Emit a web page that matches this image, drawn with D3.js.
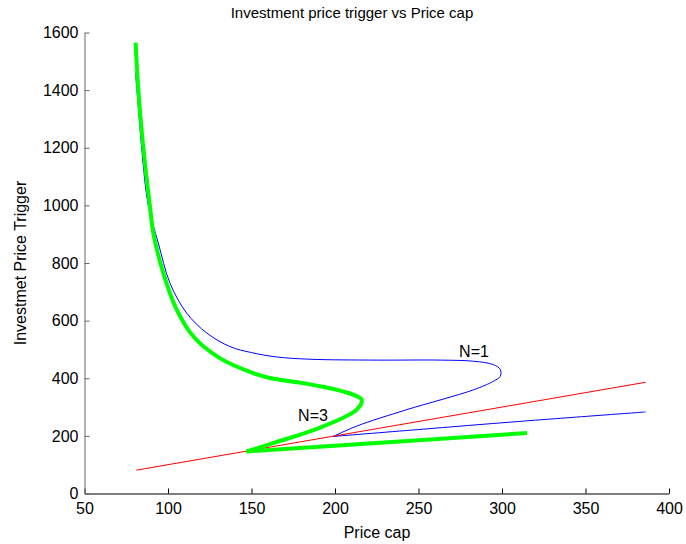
<!DOCTYPE html>
<html>
<head>
<meta charset="utf-8">
<script src="https://cdn.jsdelivr.net/npm/d3@7/dist/d3.min.js"></script>
<style>
  body { margin: 0; background: #fff; }
  text { font-family: "Liberation Sans", Arial, sans-serif; }
</style>
</head>
<body>
<svg id="svg" width="686" height="544"></svg>
<script>
// price cap (x) / investment price trigger (y)
const n1Cap     = [80.6, 82.8, 85, 88.2, 94.2, 101.2, 111.2, 123.2, 137.1, 150, 165, 185, 225, 263, 283, 295, 299, 299, 295, 283, 243, 213, 199];
const n1Trigger = [1460, 1300, 1150, 1000, 869, 730, 626, 557, 510, 489, 474, 466, 463, 463, 459, 447, 430, 407, 390, 360, 291, 234, 198];
const n1LowCap     = [199, 250, 310, 386];
const n1LowTrigger = [198, 222, 250, 283];

const n3Cap     = [80.6, 82, 84, 86.5, 89.4, 91.2, 97.2, 105.2, 115.2, 131, 151, 161, 181, 201, 213, 216, 213, 193, 163, 147];
const n3Trigger = [1565, 1420, 1274, 1130, 985, 904, 765, 638, 545, 470, 418, 401, 383, 360, 338, 325, 291, 233, 175, 146];
const n3LowCap     = [147, 209, 315];
const n3LowTrigger = [146, 169, 210];

const refCap     = [81, 386];
const refTrigger = [81, 386];

const xTicks = [50, 100, 150, 200, 250, 300, 350, 400];
const yTicks = [0, 200, 400, 600, 800, 1000, 1200, 1400, 1600];

const svg = d3.select("#svg");
const x = d3.scaleLinear().domain([50, 400]).range([84.5, 669]);
const y = d3.scaleLinear().domain([0, 1600]).range([493.5, 32.5]);

const zip = (xs, ys) => xs.map((v, i) => [v, ys[i]]);
const smooth = d3.line().x(d => x(d[0])).y(d => y(d[1])).curve(d3.curveCatmullRom.alpha(0.5));
const straight = d3.line().x(d => x(d[0])).y(d => y(d[1]));

function draw(pts, gen, color, width) {
    svg.append("path")
        .attr("d", gen(pts))
        .attr("fill", "none")
        .attr("stroke", color)
        .attr("stroke-width", width)
        .attr("stroke-linejoin", "round");
}

draw(zip(n1Cap, n1Trigger), smooth, "#0000ff", 1);
draw(zip(n1LowCap, n1LowTrigger), smooth, "#0000ff", 1);
draw(zip(refCap, refTrigger), straight, "#ff0000", 1);
draw(zip(n3Cap, n3Trigger), smooth, "#00ff00", 4);
draw(zip(n3LowCap, n3LowTrigger), straight, "#00ff00", 4);

// axes, MATLAB style: ticks inward, no box
const fmt = d3.format("d");
const xAxis = svg.append("g")
    .attr("transform", "translate(0," + y(0) + ")")
    .call(d3.axisBottom(x).tickValues(xTicks).tickFormat(fmt).tickSizeInner(-5).tickSizeOuter(0).tickPadding(9));
const yAxis = svg.append("g")
    .attr("transform", "translate(" + x(50) + ",0)")
    .call(d3.axisLeft(y).tickValues(yTicks).tickFormat(fmt).tickSizeInner(-5).tickSizeOuter(0).tickPadding(6));
[xAxis, yAxis].forEach(g => {
    g.selectAll("text").attr("font-size", 16).attr("fill", "#000")
        .attr("font-family", "'Liberation Sans', Arial, sans-serif");
    g.selectAll("line").attr("stroke", "#000");
    g.select(".domain").attr("stroke", "#000");
});
yAxis.select(".domain").attr("stroke", "#666");
yAxis.selectAll("line").attr("stroke", "#666");

svg.append("text").attr("x", 352).attr("y", 18).attr("text-anchor", "middle")
    .attr("font-size", 15).text("Investment price trigger vs Price cap");
svg.append("text").attr("x", 377).attr("y", 538).attr("text-anchor", "middle")
    .attr("font-size", 16).text("Price cap");
svg.append("text").attr("transform", "translate(26,263) rotate(-90)").attr("text-anchor", "middle")
    .attr("font-size", 16).text("Investmet Price Trigger");

svg.append("text").attr("x", 474).attr("y", 357).attr("text-anchor", "middle")
    .attr("font-size", 16).text("N=1");
svg.append("text").attr("x", 313).attr("y", 421).attr("text-anchor", "middle")
    .attr("font-size", 16).text("N=3");
</script>
</body>
</html>
